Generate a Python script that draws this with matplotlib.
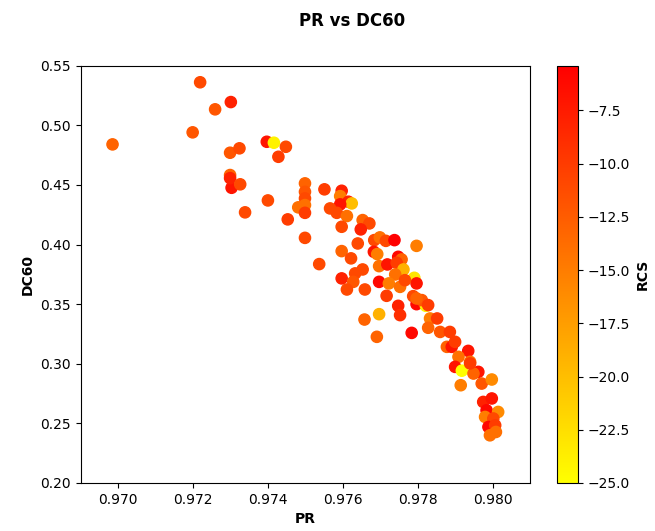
import matplotlib
matplotlib.use("Agg")
import matplotlib.pyplot as plt

# Performance ratio of each sample
pr = [
    0.96985, 0.97219, 0.97301, 0.97259, 0.97199, 0.97397, 0.97416, 0.97448, 0.97428, 0.97299,
    0.97324, 0.97299, 0.97303, 0.97299, 0.97326, 0.97339, 0.97400, 0.97453, 0.97481, 0.97499,
    0.97499, 0.97499, 0.97499, 0.97499, 0.97499, 0.97551, 0.97597, 0.97593, 0.97615, 0.97624,
    0.97593, 0.97566, 0.97584, 0.97611, 0.97597, 0.97653, 0.97671, 0.97648, 0.97640, 0.97684,
    0.97699, 0.97715, 0.97738, 0.97797, 0.97597, 0.97622, 0.97683, 0.97692, 0.97653, 0.97633,
    0.97697, 0.97719, 0.97748, 0.97757, 0.97744, 0.97762, 0.97740, 0.97791, 0.97797, 0.97597,
    0.97628, 0.97611, 0.97659, 0.97697, 0.97723, 0.97753, 0.97717, 0.97788, 0.97797, 0.97822,
    0.97748, 0.97753, 0.97697, 0.97658, 0.97691, 0.97784, 0.97537, 0.97833, 0.97852, 0.97811,
    0.97828, 0.97860, 0.97886, 0.97878, 0.97891, 0.97900, 0.97935, 0.97940, 0.97909, 0.97900,
    0.97918, 0.97962, 0.97949, 0.97940, 0.97915, 0.97971, 0.97998, 0.97975, 0.97998, 0.97984,
    0.98015, 0.97980, 0.98002, 0.97989, 0.98007, 0.98009, 0.97993, 0.97797, 0.97828, 0.97766,
]

# Degree of crystallinity at 60 (DC60)
dc60 = [
    0.4840, 0.5361, 0.5195, 0.5134, 0.4941, 0.4862, 0.4854, 0.4820, 0.4736, 0.4770,
    0.4807, 0.4583, 0.4476, 0.4557, 0.4505, 0.4270, 0.4370, 0.4211, 0.4312, 0.4513,
    0.4442, 0.4387, 0.4331, 0.4266, 0.4056, 0.4463, 0.4451, 0.4406, 0.4359, 0.4345,
    0.4337, 0.4303, 0.4266, 0.4239, 0.4149, 0.4205, 0.4177, 0.4127, 0.4009, 0.4037,
    0.4060, 0.4031, 0.4037, 0.3989, 0.3945, 0.3884, 0.3939, 0.3920, 0.3791, 0.3758,
    0.3819, 0.3833, 0.3897, 0.3875, 0.3847, 0.3791, 0.3749, 0.3721, 0.3674, 0.3716,
    0.3687, 0.3623, 0.3623, 0.3687, 0.3674, 0.3645, 0.3570, 0.3567, 0.3500, 0.3486,
    0.3486, 0.3408, 0.3416, 0.3371, 0.3226, 0.3259, 0.3836, 0.3380, 0.3380, 0.3534,
    0.3302, 0.3267, 0.3267, 0.3142, 0.3142, 0.3184, 0.3108, 0.3016, 0.3058, 0.2974,
    0.2942, 0.2932, 0.2918, 0.3003, 0.2820, 0.2834, 0.2868, 0.2680, 0.2709, 0.2610,
    0.2596, 0.2554, 0.2541, 0.2470, 0.2484, 0.2428, 0.2400, 0.3548, 0.3492, 0.3701,
]

# RCS value used for the colour of each point
rcs = [
    -13, -11, -8, -12, -12, -7, -24, -11, -10, -12,
    -11, -13, -7, -8, -11, -11, -11, -10, -14, -13,
    -12, -11, -14, -10, -11, -10, -8, -15, -8, -20,
    -7, -11, -11, -14, -11, -13, -11, -8, -11, -11,
    -14, -11, -5.4, -15, -13, -11, -7, -15, -11, -11,
    -14, -7, -6, -13, -10, -19, -14, -23, -7, -8,
    -12, -11, -11, -6, -15, -14, -10, -11, -6, -24,
    -8, -9, -19, -13, -13, -6, -11, -15, -10, -12,
    -13, -12, -10, -13, -7, -10, -7, -14, -14, -7,
    -25, -7, -13, -10, -15, -12, -16, -8, -7, -6,
    -16, -15, -11, -6, -10, -14, -14, -13, -10, -11,
]

W, H = 655, 531
fig = plt.figure(figsize=(W / 100, H / 100), dpi=100)

ax = fig.add_axes([80.7 / W, 1 - 483 / H, (530 - 80.7) / W, (483 - 65.7) / H])
cax = fig.add_axes([557 / W, 1 - 483 / H, 21 / W, (483 - 65.7) / H])

sc = ax.scatter(pr, dc60, c=rcs, cmap="autumn_r", s=65)
ax.set_xlim(0.969, 0.981)
ax.set_ylim(0.20, 0.55)
ax.set_xticks([0.970, 0.972, 0.974, 0.976, 0.978, 0.980])
ax.set_xlabel("PR", fontweight="bold", fontsize=10)
ax.set_ylabel("DC60", fontweight="bold", fontsize=10)

cb = fig.colorbar(sc, cax=cax)
cb.set_label("RCS", fontweight="bold", fontsize=10)

fig.text(352 / W, 1 - 21 / H, "PR vs DC60", ha="center", va="center",
         fontsize=12, fontweight="bold")

fig.savefig("out.png", dpi=100)
